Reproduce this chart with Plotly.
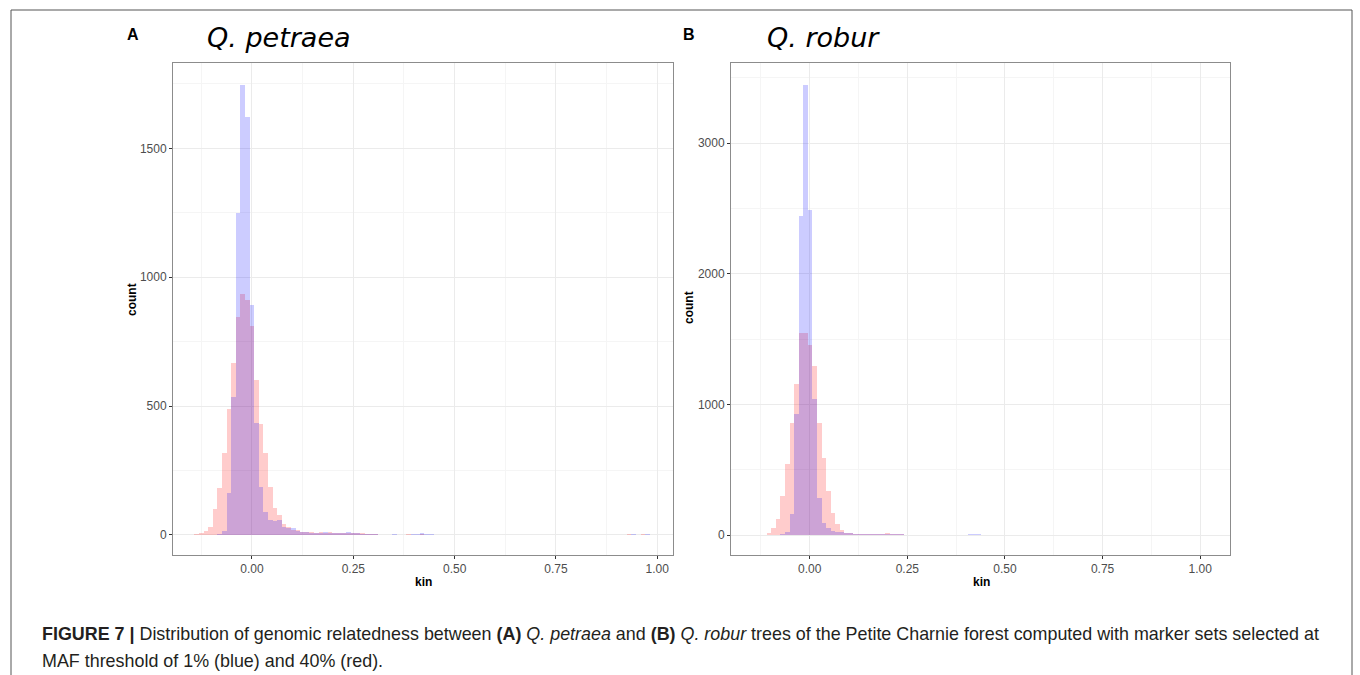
import plotly.graph_objects as go

# ---------------- data ----------------
# Panel A: Q. petraea
kin_start_A = -0.1362
bin_width_A = 0.01135
red_A = [2, 6, 15, 30, 100, 183, 317, 488, 667, 844, 933, 913,
         811, 601, 429, 319, 186, 106, 78, 41, 32, 19, 19,
         13, 12, 10, 9, 11, 9, 10, 8, 9, 7, 8, 7, 6, 6, 5,
         2, 2, 1, 1, 1, 1, 1, 1, 2, 1, 1, 2, 1,
         1, 0, 1, 1, 0, 1, 0, 1, 0, 0, 1, 0, 0, 1, 0, 0, 1,
         0, 0, 1, 0, 0, 0, 0, 0, 1, 0, 0, 0, 0, 0, 0, 0, 0, 0, 0, 0, 0, 0, 0, 0,
         1, 1, 2, 1, 1, 2, 1]
blue_A = [0, 0, 0, 0, 1, 3, 15, 164, 534, 1249, 1744, 1620,
          891, 435, 186, 90, 56, 55, 58, 32, 28, 28, 17,
          12, 10, 9, 8, 9, 10, 8, 7, 8, 9, 10, 7, 6, 4, 3,
          2, 2, 1, 1, 1, 2, 1, 1, 1, 2, 3, 6, 5,
          2, 1, 1, 0, 1, 0, 1, 1, 0, 1, 0, 0, 1, 0, 1, 0, 0,
          0, 1, 0, 0, 0, 1, 0, 0, 0, 0, 1, 0, 0, 0, 0, 0, 0, 0, 0, 0, 0, 0, 0, 0,
          1, 1, 1, 2, 1, 1, 2]

# Panel B: Q. robur
kin_start_B = -0.1394
bin_width_B = 0.0117
red_B = [0, 1, 3, 13, 51, 120, 298, 543, 860, 1156, 1543, 1548,
         1452, 1293, 860, 587, 337, 166, 84, 38, 18, 12,
         10, 9, 8, 8, 7, 8, 10, 12, 8, 6, 5,
         3, 3, 2, 2, 3, 2, 2, 1, 2, 1, 1, 1, 1, 1,
         2, 2, 1, 1,
         1, 0, 1, 0, 0, 1, 0, 0, 1, 0, 0, 0, 1, 0, 0, 0, 0, 0, 0, 0, 0, 0, 0, 0,
         0, 0, 0, 0, 0, 0, 0, 0, 0, 0, 0, 0, 0, 0, 0, 0, 0, 0, 0, 0, 0, 1, 1, 0]
blue_B = [0, 0, 0, 0, 0, 0, 5, 25, 161, 923, 2444, 3444,
          2487, 1038, 281, 89, 51, 33, 25, 25, 18, 12,
          10, 8, 8, 7, 7, 6, 8, 6, 7, 5, 4,
          3, 2, 3, 2, 2, 2, 3, 2, 1, 2, 1, 1, 1, 1,
          8, 9, 7, 3,
          1, 1, 0, 1, 0, 0, 1, 0, 0, 0, 1, 0, 0, 0, 0, 0, 0, 0, 0, 0, 0, 0, 0, 0,
          0, 0, 0, 0, 0, 0, 0, 0, 0, 0, 0, 0, 0, 0, 0, 0, 0, 0, 0, 0, 0, 2, 2, 0]

x_ticks = [0.0, 0.25, 0.5, 0.75, 1.0]
x_tick_labels = ["0.00", "0.25", "0.50", "0.75", "1.00"]
y_ticks_A = [0, 500, 1000, 1500]
y_ticks_B = [0, 1000, 2000, 3000]

titles = ["Q. petraea", "Q. robur"]
panel_letters = ["A", "B"]

RED = "rgba(255,0,0,0.2)"
BLUE = "rgba(0,0,255,0.2)"


def centers(start, width, n):
    return [start + i * width for i in range(n)]


fig = go.Figure()

for counts, col, start, w, xa, ya in [
    (red_A, RED, kin_start_A, bin_width_A, "x", "y"),
    (blue_A, BLUE, kin_start_A, bin_width_A, "x", "y"),
    (red_B, RED, kin_start_B, bin_width_B, "x2", "y2"),
    (blue_B, BLUE, kin_start_B, bin_width_B, "x2", "y2"),
]:
    fig.add_trace(go.Bar(
        x=centers(start, w, len(counts)), y=counts, width=w,
        marker=dict(color=col, line=dict(width=0)),
        xaxis=xa, yaxis=ya, showlegend=False, hoverinfo="x+y",
    ))

W, H = 1360, 675
tickfont = dict(family="Liberation Sans, Arial, sans-serif", size=12, color="#4d4d4d")


def xaxis(domain, rng):
    return dict(domain=domain, range=rng, tickvals=x_ticks, ticktext=x_tick_labels,
                showgrid=True, gridcolor="#ebebeb", gridwidth=1, zeroline=False,
                minor=dict(showgrid=True, gridcolor="#f5f5f5", dtick=0.125, tick0=0, ticks=""),
                showline=True, mirror=True, linecolor="#8c8c8c", linewidth=1,
                ticks="outside", ticklen=3, tickcolor="#333333", tickfont=tickfont)


def yaxis(domain, rng, tv, minor_dt, anchor):
    return dict(domain=domain, range=rng, tickvals=tv, ticktext=[str(v) for v in tv],
                showgrid=True, gridcolor="#ebebeb", gridwidth=1, zeroline=False,
                minor=dict(showgrid=True, gridcolor="#f5f5f5", dtick=minor_dt, tick0=0, ticks=""),
                showline=True, mirror=True, linecolor="#8c8c8c", linewidth=1,
                ticks="outside", ticklen=3, tickcolor="#333333", tickfont=tickfont,
                anchor=anchor)


ydom = [1 - 555 / H, 1 - 63 / H]
fig.update_layout(
    width=W, height=H,
    margin=dict(l=0, r=0, t=0, b=0),
    paper_bgcolor="white", plot_bgcolor="white",
    barmode="overlay", bargap=0,
    xaxis=dict(**xaxis([173 / W, 673 / W], [-0.1949, 1.0388]), anchor="y"),
    yaxis=yaxis(ydom, [-78, 1831], y_ticks_A, 250, "x"),
    xaxis2=dict(**xaxis([731 / W, 1230 / W], [-0.2015, 1.0763]), anchor="y2"),
    yaxis2=yaxis(ydom, [-153, 3614], y_ticks_B, 500, "x2"),
)

ann = []
lab_font = dict(family="Liberation Sans, Arial, sans-serif", size=12, color="black")
for xc, yc in [(132, 300), (689, 308)]:
    ann.append(dict(x=xc / W, y=1 - yc / H, xref="paper", yref="paper", text="<b>count</b>",
                    textangle=-90, showarrow=False, font=lab_font, xanchor="center", yanchor="middle"))
for xc in [423, 981]:
    ann.append(dict(x=xc / W, y=1 - 582 / H, xref="paper", yref="paper", text="<b>kin</b>",
                    showarrow=False, font=lab_font, xanchor="center", yanchor="middle"))
for letter, xc in zip(panel_letters, [133, 689]):
    ann.append(dict(x=xc / W, y=1 - 35 / H, xref="paper", yref="paper", text="<b>" + letter + "</b>",
                    showarrow=False, font=dict(family="Liberation Sans, Arial, sans-serif", size=16, color="black"),
                    xanchor="center", yanchor="middle"))
for t, xl in zip(titles, [205, 765]):
    ann.append(dict(x=xl / W, y=1 - 38 / H, xref="paper", yref="paper", text="<i>" + t + "</i>",
                    showarrow=False, font=dict(family="DejaVu Sans, sans-serif", size=27, color="black"),
                    xanchor="left", yanchor="middle"))

cap_font = dict(family="Liberation Sans, Arial, sans-serif", size=17.9, color="#231f20")
ann.append(dict(x=40 / W, y=1 - 634 / H, xref="paper", yref="paper", showarrow=False,
                xanchor="left", yanchor="middle", font=cap_font,
                text="<b>FIGURE 7 |</b> Distribution of genomic relatedness between <b>(A)</b> <i>Q. petraea</i> and "
                     "<b>(B)</b> <i>Q. robur</i> trees of the Petite Charnie forest computed with marker sets selected at"))
ann.append(dict(x=40 / W, y=1 - 661 / H, xref="paper", yref="paper", showarrow=False,
                xanchor="left", yanchor="middle", font=cap_font,
                text="MAF threshold of 1% (blue) and 40% (red)."))
fig.update_layout(annotations=ann)

# outer frame
fig.add_shape(type="rect", xref="paper", yref="paper", x0=11 / W, x1=1352 / W, y0=-0.01, y1=1 - 10 / H,
              line=dict(color="#555555", width=1), fillcolor="rgba(0,0,0,0)")

fig.write_html("out.html", config={"displayModeBar": False},
               post_script="document.body.style.margin='0';document.body.style.overflow='hidden';")
